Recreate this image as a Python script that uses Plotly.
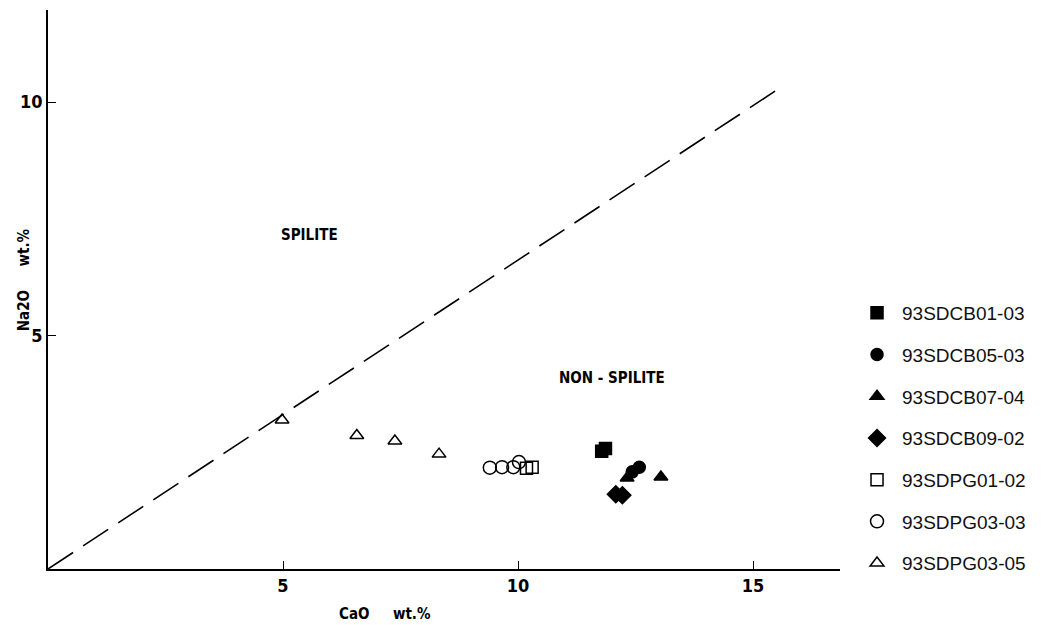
import plotly.graph_objects as go

# CaO vs Na2O (wt.%) for each sample
cb01_03_cao = [11.78, 11.86]
cb01_03_na2o = [2.52, 2.58]
cb05_03_cao = [12.43, 12.58]
cb05_03_na2o = [2.08, 2.18]
cb07_04_cao = [12.32, 13.04]
cb07_04_na2o = [1.95, 1.97]
cb09_02_cao = [12.08, 12.22]
cb09_02_na2o = [1.60, 1.58]
pg01_02_cao = [10.18, 10.30]
pg01_02_na2o = [2.16, 2.18]
pg03_03_cao = [9.40, 9.66, 9.90, 10.02]
pg03_03_na2o = [2.17, 2.18, 2.18, 2.29]
pg03_05_cao = [4.98, 6.57, 7.38, 8.32]
pg03_05_na2o = [3.19, 2.86, 2.74, 2.46]

# Spilite / non-spilite boundary
boundary_cao = [0.0, 15.6]
boundary_na2o = [0.0, 10.32]

x_ticks = [5, 10, 15]
y_ticks = [5, 10]

series = [
    ("93SDCB01-03", cb01_03_cao, cb01_03_na2o, "square", 12),
    ("93SDCB05-03", cb05_03_cao, cb05_03_na2o, "circle", 12),
    ("93SDCB07-04", cb07_04_cao, cb07_04_na2o, "triangle-up", 12),
    ("93SDCB09-02", cb09_02_cao, cb09_02_na2o, "diamond", 13),
    ("93SDPG01-02", pg01_02_cao, pg01_02_na2o, "square-open", 12),
    ("93SDPG03-03", pg03_03_cao, pg03_03_na2o, "circle-open", 13),
    ("93SDPG03-05", pg03_05_cao, pg03_05_na2o, "triangle-up-open", 12),
]

fig = go.Figure()

fig.add_trace(go.Scatter(
    x=boundary_cao, y=boundary_na2o, mode="lines",
    line=dict(color="black", width=1.6, dash="30px,12px"),
    showlegend=False, hoverinfo="skip",
))

for i, (name, xs, ys, sym, size) in enumerate(series):
    fig.add_trace(go.Scatter(
        x=xs, y=ys, mode="markers", name=name, legendgroup=f"g{i}",
        marker=dict(symbol=sym, size=size, color="black",
                    line=dict(color="black", width=1.5)),
    ))

narrow = "Liberation Sans Narrow, DejaVu Sans Condensed, Arial Narrow"
label_font = dict(family=narrow, size=15, color="black", weight="bold")
tick_font = dict(family=narrow, size=18, color="black", weight="bold")

fig.add_annotation(x=5.57, y=7.15, text="SPILITE", showarrow=False, font=label_font)
fig.add_annotation(x=12.0, y=4.09, text="NON - SPILITE", showarrow=False, font=label_font)

# axis titles
fig.add_annotation(xref="paper", yref="paper", x=0.4255, y=-0.0805,
                   xanchor="center", yanchor="middle",
                   text="CaO&nbsp;&nbsp;&nbsp;&nbsp;&nbsp;wt.%", showarrow=False, font=label_font)
fig.add_annotation(xref="paper", yref="paper", x=-0.030, y=0.517, textangle=-90,
                   xanchor="center", yanchor="middle",
                   text="Na2O&nbsp;&nbsp;&nbsp;&nbsp;&nbsp;wt.%", showarrow=False, font=label_font)

fig.update_layout(
    width=1043, height=625,
    margin=dict(l=48, r=203, t=10, b=56),
    paper_bgcolor="white", plot_bgcolor="white",
    font=dict(family="Liberation Sans, Arial", color="black"),
    legend=dict(
        xref="container", yref="container",
        x=0.8169, xanchor="left", y=0.5296, yanchor="top",
        font=dict(family="Liberation Sans, Arial", size=19, color="#111"),
        tracegroupgap=14, itemwidth=40,
        bgcolor="rgba(0,0,0,0)",
    ),
    xaxis=dict(
        range=[0, 16.85], showgrid=False, zeroline=False,
        showline=True, linecolor="black", linewidth=1.5,
        tickvals=x_ticks, ticks="inside", ticklen=8, tickcolor="black",
        tickfont=tick_font,
    ),
    yaxis=dict(
        range=[0, 11.97], showgrid=False, zeroline=False,
        showline=True, linecolor="black", linewidth=1.5,
        tickvals=y_ticks, ticks="inside", ticklen=8, tickcolor="black",
        tickfont=tick_font,
    ),
)

fig.write_html("out.html")
